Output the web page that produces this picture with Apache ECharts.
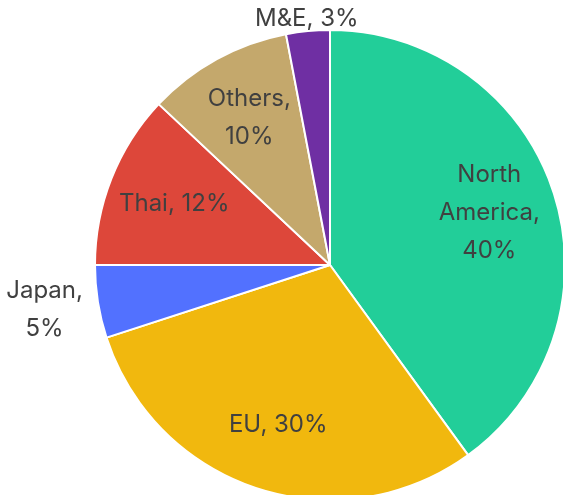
<!DOCTYPE html>
<html>
<head>
<meta charset="utf-8">
<script src="https://cdn.jsdelivr.net/npm/echarts@6/dist/echarts.min.js"></script>
<style>
  html, body { margin: 0; padding: 0; background: #fff; }
  #my_chart { width: 563px; height: 495px; }
</style>
</head>
<body>
<div id="my_chart"></div>
<script>
// 数据
var names = ['North America', 'EU', 'Japan', 'Thai', 'Others', 'M&E'];
var values = [40, 30, 5, 12, 10, 3];
var labels = ['North\nAmerica,\n40%', 'EU, 30%', 'Japan,\n5%', 'Thai, 12%', 'Others,\n10%', 'M&E, 3%'];
var colors = ['#22CE99', '#F1B80E', '#5271FF', '#DD473A', '#C4A86C', '#6F2FA3'];
// which label sits in which ring: 0 inside, 1 far out (Japan), 2 near rim (M&E)
var labelRing = [0, 0, 1, 0, 0, 2];

var center = [330, 265];
var R = 235;

var textStyle = {
    color: '#404040',
    fontFamily: 'Inter',
    fontSize: 24,
    lineHeight: 38
};

function makeData(ring, withColor) {
    return names.map(function (n, i) {
        return {
            name: n,
            value: values[i],
            itemStyle: withColor ? { color: colors[i] } : { color: 'rgba(0,0,0,0)' },
            label: { show: !withColor && labelRing[i] === ring, formatter: labels[i] }
        };
    });
}

// label-only ring
function labelSeries(ring, radius) {
    return {
        type: 'pie',
        silent: true,
        center: center,
        radius: radius,
        startAngle: 90,
        animation: false,
        itemStyle: { borderWidth: 0 },
        label: Object.assign({ position: 'inside' }, textStyle),
        labelLine: { show: false },
        emphasis: { disabled: true },
        data: makeData(ring, false)
    };
}

var myChart = echarts.init(document.getElementById('my_chart'));
var option = {
    animation: false,
    series: [
        {
            type: 'pie',
            center: center,
            radius: [0, R],
            startAngle: 90,
            itemStyle: { borderColor: '#fff', borderWidth: 2 },
            label: { show: false },
            labelLine: { show: false },
            data: makeData(-1, true)
        },
        labelSeries(0, [R * 0.4, R]),
        labelSeries(1, [266, 306]),
        labelSeries(2, [229, 259])
    ]
};
myChart.setOption(option);
</script>
</body>
</html>
